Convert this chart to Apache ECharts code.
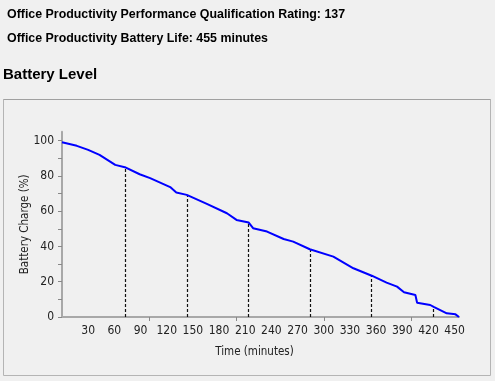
<!DOCTYPE html>
<html>
<head>
<meta charset="utf-8">
<style>
html,body{margin:0;padding:0;background:#f0f0f0;}
#c{width:495px;height:381px;}
</style>
<script src="https://cdn.jsdelivr.net/npm/echarts@6/dist/echarts.min.js"></script>
</head>
<body>
<div id="c"></div>
<script>
var times  = [0, 17, 30, 43, 61, 72, 89, 101, 124, 131, 143, 166, 189, 200, 214, 219, 235, 254, 265, 284, 311, 334, 355, 372, 384, 392, 405, 407, 422, 426, 441, 451, 455];
var charge = [99, 97, 94.7, 91.9, 86.2, 84.9, 80.9, 78.7, 73.6, 70.5, 69.2, 64.1, 58.8, 55, 53.5, 50.3, 48.4, 44.2, 42.7, 38.4, 34.2, 27.6, 23.4, 19.5, 17.2, 14, 12.5, 8.1, 6.8, 5.7, 2.1, 1.5, 0];
var markerTimes  = [72, 143, 214, 285, 355, 426];
var markerValues = [84.9, 69.2, 53.5, 38.4, 23.4, 5.7];
var xLabelValues = [30, 60, 90, 120, 150, 180, 210, 240, 270, 300, 330, 360, 390, 420, 450];
var xTickValues  = [100, 200, 300, 400];
var yLabelValues = [0, 20, 40, 60, 80, 100];
var yTickValues  = [0, 10, 20, 30, 40, 50, 60, 70, 80, 90, 100];

var font = "'DejaVu Sans Condensed', 'Liberation Sans', sans-serif";
var chart = echarts.init(document.getElementById('c'), null, {renderer: 'canvas'});
var lineData = times.map(function (t, i) { return [t, charge[i]]; });
var markData = markerTimes.map(function (t, i) {
  return [{coord: [t, 0]}, {coord: [t, markerValues[i]]}];
});

chart.setOption({
  backgroundColor: '#f0f0f0',
  animation: false,
  graphic: [
    {type: 'rect', shape: {x: 3.5, y: 99.5, width: 487, height: 276}, style: {fill: 'none', stroke: '#b4b4b4', lineWidth: 1}},
    {type: 'line', shape: {x1: 3.5, y1: 99.5, x2: 490.5, y2: 99.5}, style: {stroke: '#a0a0a0', lineWidth: 1}},
    {type: 'text', left: 7, top: 9, style: {text: 'Office Productivity Performance Qualification Rating: 137', font: 'bold 12.4px "Liberation Sans", Arial, sans-serif', fill: '#000'}},
    {type: 'text', left: 7, top: 33, style: {text: 'Office Productivity Battery Life: 455 minutes', font: 'bold 12.4px "Liberation Sans", Arial, sans-serif', fill: '#000'}},
    {type: 'text', left: 3, top: 67, style: {text: 'Battery Level', font: 'bold 15px "Liberation Sans", Arial, sans-serif', fill: '#000'}}
  ],
  grid: {left: 62, right: 36, top: 131.7, bottom: 64, containLabel: false},
  xAxis: {
    type: 'value', min: 0, max: 455,
    name: 'Time (minutes)', nameLocation: 'middle', nameGap: 29,
    nameTextStyle: {fontFamily: font, fontSize: 11.5, color: '#222', padding: [0, 12, 0, 0]},
    axisLine: {show: true, lineStyle: {color: '#a8a8a8', width: 2}},
    axisTick: {show: true, length: 4, customValues: xTickValues, lineStyle: {color: '#888', width: 1}},
    axisLabel: {customValues: xLabelValues, fontFamily: font, fontSize: 12, color: '#222', margin: 8},
    splitLine: {show: false}
  },
  yAxis: {
    type: 'value', min: 0, max: 105,
    name: 'Battery Charge (%)', nameLocation: 'middle', nameGap: 31, nameRotate: 90,
    nameMoveOverlap: false,
    nameTextStyle: {fontFamily: font, fontSize: 11.5, color: '#222'},
    axisLine: {show: true, lineStyle: {color: '#a8a8a8', width: 2}},
    axisTick: {show: true, length: 4, customValues: yTickValues, lineStyle: {color: '#888', width: 1}},
    axisLabel: {customValues: yLabelValues, fontFamily: font, fontSize: 12, color: '#222', margin: 8},
    splitLine: {show: false}
  },
  series: [{
    type: 'line',
    data: lineData,
    showSymbol: false,
    symbol: 'none',
    lineStyle: {color: '#0000ff', width: 2},
    z: 3,
    markLine: {
      silent: true,
      symbol: ['none', 'none'],
      label: {show: false},
      lineStyle: {color: '#111', width: 1.2, type: [3, 2]},
      data: markData,
      z: 2
    }
  }]
});
</script>
</body>
</html>
